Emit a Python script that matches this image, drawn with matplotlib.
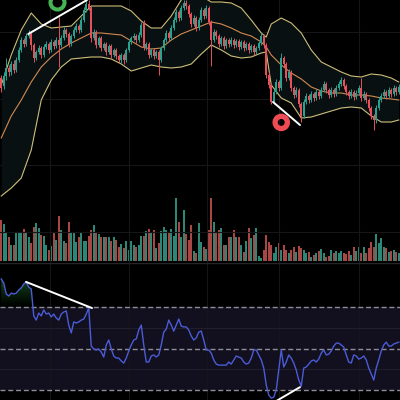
import numpy as np
import matplotlib
matplotlib.use("Agg")
import matplotlib.pyplot as plt
from matplotlib.colors import LinearSegmentedColormap

# ---- OHLC candles ----
open_ = [222, 214, 224, 232, 228, 236, 230, 240, 250, 260,
         256, 264, 266, 255, 242, 248, 252, 245, 253, 256,
         250, 258, 254, 260, 255, 262, 270, 266, 256, 264,
         270, 274, 270, 280, 290, 296, 292, 262, 268, 255,
         262, 252, 256, 248, 254, 245, 250, 244, 240, 245,
         240, 250, 258, 262, 264, 260, 265, 278, 252, 256,
         245, 250, 244, 248, 240, 252, 260, 267, 262, 272,
         280, 288, 282, 292, 297, 294, 286, 276, 282, 272,
         280, 290, 284, 292, 278, 260, 268, 264, 256, 262,
         254, 260, 256, 260, 255, 259, 253, 258, 252, 256,
         250, 254, 248, 252, 257, 264, 255, 225, 215, 198,
         208, 218, 212, 242, 236, 222, 228, 212, 205, 210,
         196, 184, 198, 204, 200, 206, 202, 208, 204, 210,
         216, 210, 205, 210, 206, 212, 216, 220, 214, 208,
         204, 208, 203, 207, 212, 202, 206, 200, 192, 184,
         180, 192, 200, 204, 208, 204, 210, 206, 212, 208]
close = [212, 224, 232, 228, 236, 230, 240, 250, 260, 256,
         264, 267, 255, 242, 248, 252, 245, 253, 256, 250,
         258, 254, 260, 255, 262, 270, 266, 256, 264, 270,
         274, 270, 280, 290, 296, 292, 262, 268, 255, 262,
         252, 256, 248, 254, 245, 250, 244, 240, 245, 240,
         250, 258, 262, 264, 260, 265, 275, 252, 256, 245,
         250, 244, 248, 240, 252, 260, 267, 262, 272, 280,
         288, 282, 292, 297, 294, 286, 276, 282, 272, 280,
         290, 284, 292, 278, 260, 268, 264, 256, 262, 254,
         260, 256, 260, 255, 259, 253, 258, 252, 256, 250,
         254, 248, 252, 257, 264, 255, 225, 215, 198, 208,
         218, 212, 242, 236, 222, 228, 212, 205, 210, 196,
         184, 198, 204, 200, 206, 202, 208, 204, 210, 216,
         210, 205, 210, 206, 212, 216, 220, 214, 208, 204,
         208, 203, 207, 212, 202, 206, 200, 192, 184, 180,
         192, 200, 204, 208, 204, 210, 206, 212, 208, 213]
high = [225, 228, 242, 235, 239, 240, 243, 253, 263, 262,
        267, 270, 268, 257, 250, 255, 254, 256, 259, 258,
        261, 260, 263, 283, 265, 273, 272, 268, 266, 273,
        277, 276, 283, 293, 300, 300, 294, 271, 270, 264,
        264, 258, 258, 256, 256, 252, 252, 246, 247, 247,
        252, 260, 264, 267, 266, 268, 278, 280, 258, 258,
        252, 252, 250, 250, 254, 262, 270, 269, 275, 283,
        291, 290, 295, 300, 300, 296, 288, 285, 284, 283,
        293, 292, 295, 294, 280, 271, 270, 266, 264, 264,
        262, 262, 263, 262, 261, 261, 260, 260, 258, 258,
        256, 256, 254, 259, 267, 266, 257, 228, 217, 211,
        221, 220, 247, 244, 238, 231, 230, 214, 213, 212,
        198, 201, 207, 206, 209, 208, 211, 210, 213, 219,
        218, 212, 213, 212, 215, 219, 223, 222, 216, 210,
        211, 210, 210, 215, 222, 209, 208, 202, 194, 186,
        195, 203, 207, 211, 210, 213, 212, 215, 214, 216]
low = [208, 211, 220, 224, 225, 227, 228, 238, 248, 253,
       254, 262, 250, 238, 240, 246, 242, 243, 251, 247,
       248, 251, 252, 233, 253, 260, 263, 253, 254, 262,
       268, 267, 268, 278, 288, 290, 258, 260, 252, 253,
       249, 250, 245, 246, 242, 243, 241, 237, 237, 236,
       238, 248, 256, 260, 257, 258, 263, 250, 250, 242,
       243, 241, 242, 225, 238, 250, 258, 259, 260, 270,
       278, 279, 280, 290, 291, 283, 273, 274, 269, 270,
       278, 281, 282, 275, 234, 258, 261, 253, 254, 251,
       252, 253, 254, 252, 253, 250, 251, 249, 250, 247,
       248, 245, 246, 250, 255, 252, 222, 212, 196, 196,
       206, 209, 210, 233, 219, 220, 209, 202, 203, 193,
       178, 182, 196, 197, 198, 199, 200, 201, 202, 208,
       207, 202, 203, 203, 204, 210, 214, 211, 205, 201,
       202, 200, 201, 205, 199, 200, 197, 189, 181, 170,
       177, 190, 198, 202, 201, 202, 203, 204, 205, 206]

volume = [41, 37, 28, 24, 16, 16, 28, 28, 28, 32,
          28, 24, 18, 34, 38, 33, 26, 25, 16, 11,
          15, 29, 21, 45, 31, 20, 18, 39, 29, 28,
          19, 24, 28, 20, 20, 25, 31, 36, 29, 27,
          24, 24, 24, 24, 20, 24, 21, 14, 17, 13,
          20, 11, 20, 16, 14, 16, 25, 25, 30, 32,
          29, 31, 13, 18, 30, 34, 31, 29, 32, 25,
          63, 39, 24, 51, 27, 21, 36, 10, 8, 38,
          19, 14, 12, 31, 63, 39, 28, 31, 33, 16,
          16, 24, 24, 31, 24, 24, 16, 9, 20, 33,
          23, 26, 33, 5, 3, 11, 26, 19, 16, 8,
          14, 18, 11, 16, 11, 8, 11, 14, 9, 15,
          13, 11, 8, 9, 4, 6, 8, 10, 12, 8,
          4, 5, 11, 8, 10, 8, 10, 8, 7, 10,
          6, 14, 10, 14, 8, 14, 8, 13, 19, 14,
          27, 18, 23, 14, 13, 9, 10, 11, 9, 8]

rsi = [83.5, 81.6, 76.3, 75.3, 76.7, 76.3, 76.7, 78.2, 79.2, 81.1,
       82.1, 79.6, 78.7, 65.7, 63.7, 67.1, 65.7, 68.6, 66.6, 67.1,
       65.2, 66.6, 64.7, 63.7, 66.6, 67.6, 68.1, 61.3, 57.5, 62.8,
       62.3, 62.8, 63.7, 64.2, 66.6, 69.5, 51.2, 49.8, 49.3, 49.8,
       48.3, 45.9, 51.7, 54.1, 49.8, 46.4, 45.4, 45.4, 44.0, 43.0,
       45.4, 48.8, 51.7, 54.1, 54.6, 58.9, 61.3, 51.7, 43.5, 43.5,
       46.4, 46.9, 45.9, 46.9, 51.7, 57.9, 59.4, 63.7, 61.3, 58.4,
       61.3, 64.2, 60.8, 60.4, 60.4, 58.9, 56.0, 54.1, 55.1, 57.9,
       58.4, 54.1, 49.3, 49.3, 47.8, 44.5, 42.5, 42.0, 42.0, 42.0,
       42.0, 43.5, 42.5, 44.5, 46.4, 45.9, 45.4, 43.5, 42.5, 43.0,
       45.4, 49.3, 49.3, 46.9, 44.5, 40.6, 32.4, 27.6, 26.1, 26.6,
       30.0, 39.6, 49.3, 41.1, 43.5, 46.9, 45.4, 43.0, 39.6, 34.8,
       31.9, 40.6, 41.1, 42.5, 44.0, 44.5, 43.5, 44.9, 47.8, 49.3,
       46.9, 47.3, 48.8, 51.2, 52.6, 52.6, 51.7, 50.7, 46.9, 43.5,
       43.0, 46.9, 46.4, 44.9, 45.4, 46.4, 44.5, 40.6, 37.7, 34.8,
       40.6, 44.5, 48.8, 51.7, 53.1, 51.2, 51.2, 52.2, 52.6, 53.1]

# ---- Bollinger bands (sampled at these candle indices) ----
band_idx = [0, 4, 8, 12, 16, 20, 24, 28, 32, 36, 40, 44, 48, 52, 56, 60, 64,
            68, 72, 76, 80, 84, 88, 92, 96, 100, 104, 106, 108, 112, 116, 120,
            124, 128, 132, 136, 140, 144, 148, 152, 156, 159]
bb_upper = [215, 245, 270, 287, 276, 272, 273, 274, 284, 294, 294, 294, 294,
            289, 279, 272, 272, 284, 300, 308, 304, 298, 298, 297, 292, 280,
            267, 263, 276, 282, 277, 267, 250, 238, 233, 228, 224, 223, 226,
            225, 222, 218]
bb_mid = [162, 184, 200, 218, 233, 243, 251, 257, 262, 267, 267, 266, 265,
          259, 253, 251, 252, 260, 266, 270, 274, 278, 276, 272, 267, 264,
          258, 253, 245, 235, 227, 221, 213, 209, 207, 207, 205, 205, 204,
          202, 201, 200]
bb_lower = [104, 112, 122, 150, 200, 220, 233, 241, 242, 243, 243, 241, 236,
            229, 232, 235, 233, 232, 233, 236, 246, 255, 250, 244, 242, 243,
            247, 248, 215, 202, 197, 182, 183, 186, 189, 192, 193, 192, 184,
            178, 178, 180]

# ---- annotations ----
price_trend_top = ([10.8, 34.3], [266, 300])
price_trend_bottom = ([108.7, 119.5], [198, 175])
rsi_trend_top = ([9.9, 36.3], [82.1, 69.5])
rsi_trend_bottom = ([108.3, 119.5], [23.5, 31.4])
sell_marker = (22.5, 297.5)
buy_marker = (112.0, 177.6)
session_breaks = [19.5, 51.1, 82.3, 111.1, 143.1]

TEAL = "#27a28e"
RED = "#e8515c"
VOL_TEAL = "#2c8777"
VOL_RED = "#a84743"
BG = "#000000"
GRID = "#161619"

fig = plt.figure(figsize=(4, 4), dpi=100, facecolor=BG)
axv = fig.add_axes([0, 139 / 400, 1, 66 / 400])
ax = fig.add_axes([0, 137 / 400, 1, 263 / 400])
axr = fig.add_axes([0, 0, 1, 137 / 400])
axv.set_zorder(1)
ax.set_zorder(2)
ax.patch.set_alpha(0)
axv.patch.set_alpha(0)
axr.set_facecolor(BG)

idx = np.arange(len(close))
o = np.array(open_, float)
c = np.array(close, float)
colors = np.where(c >= o, TEAL, RED)
vcolors = np.where(c >= o, VOL_TEAL, VOL_RED)
xlim = (-0.5, len(close) - 0.5)

for a in (ax, axv, axr):
    a.set_xlim(*xlim)
    for s in a.spines.values():
        s.set_visible(False)
    a.set_xticks([])
    a.set_yticks([])

# grid
for xb in session_breaks:
    ax.axvline(xb, color=GRID, lw=0.8, zorder=0)
    axr.axvline(xb, color=GRID, lw=0.8, zorder=0.5)
for yl in (268, 201, 135, 68):
    ax.axhline(yl, color=GRID, lw=0.8, zorder=0)

# price pane
ax.set_ylim(37, 300)
ax.fill_between(band_idx, bb_lower, bb_upper, color="#091012", zorder=0.5, lw=0)
ax.plot(band_idx, bb_upper, color="#cdbd78", lw=0.8, zorder=2)
ax.plot(band_idx, bb_lower, color="#cdbd78", lw=0.8, zorder=2)
ax.plot(band_idx, bb_mid, color="#d08a50", lw=0.8, zorder=2)
ax.vlines(idx, low, high, colors=colors, lw=0.7, zorder=3)
ax.bar(idx, np.maximum(np.abs(c - o), 0.8), bottom=np.minimum(o, c),
       width=0.62, color=colors, lw=0, zorder=4)
ax.plot(*price_trend_top, color="white", lw=1.4, zorder=5, solid_capstyle="round")
ax.plot(*price_trend_bottom, color="white", lw=1.4, zorder=5, solid_capstyle="round")
ax.scatter([sell_marker[0]], [sell_marker[1]], s=102, facecolors="none",
           edgecolors="#46b553", linewidths=2.9, zorder=6)
ax.scatter([buy_marker[0]], [buy_marker[1]], s=78, facecolors="none",
           edgecolors="#ee4b55", linewidths=3.8, zorder=6)

# volume pane
axv.set_ylim(0, 66)
axv.bar(idx, volume, width=0.62, color=vcolors, lw=0)

# pane separator
axr.axhline(91.0, color="#262629", lw=1.0, zorder=1)

# RSI pane
axr.set_ylim(25.2, 91.2)
r = np.array(rsi)
axr.axhspan(30, 70, color="#120f1f", zorder=0, lw=0)
for lvl in (60, 40):
    axr.axhline(lvl, color="#221f2d", lw=0.8, zorder=0.6)
for lvl in (70, 50, 30):
    axr.axhline(lvl, color="#8e8e96", lw=1.0, ls=(0, (3.6, 2.0)), zorder=1)
ob = axr.fill_between(idx, 70, r, where=r > 70, interpolate=True,
                      color="none", lw=0)
grad = np.linspace(0, 1, 256).reshape(-1, 1)
gcmap = LinearSegmentedColormap.from_list(
    "ob", [(0.1, 0.45, 0.15, 0.0), (0.2, 0.62, 0.25, 0.6)])
im = axr.imshow(grad, extent=[xlim[0], xlim[1], 70, 86], origin="lower",
                cmap=gcmap, aspect="auto", zorder=1.5, interpolation="bilinear")
paths = ob.get_paths()
if paths:
    im.set_clip_path(paths[0], transform=axr.transData)
axr.plot(idx, r, color="#4a5cd6", lw=1.0, zorder=3)
axr.plot(*rsi_trend_top, color="white", lw=1.4, zorder=4, solid_capstyle="round")
axr.plot(*rsi_trend_bottom, color="white", lw=1.4, zorder=4, solid_capstyle="round")
axr.set_xlim(*xlim)
axr.set_ylim(25.2, 91.2)

fig.savefig("out.png", dpi=100, facecolor=BG)
